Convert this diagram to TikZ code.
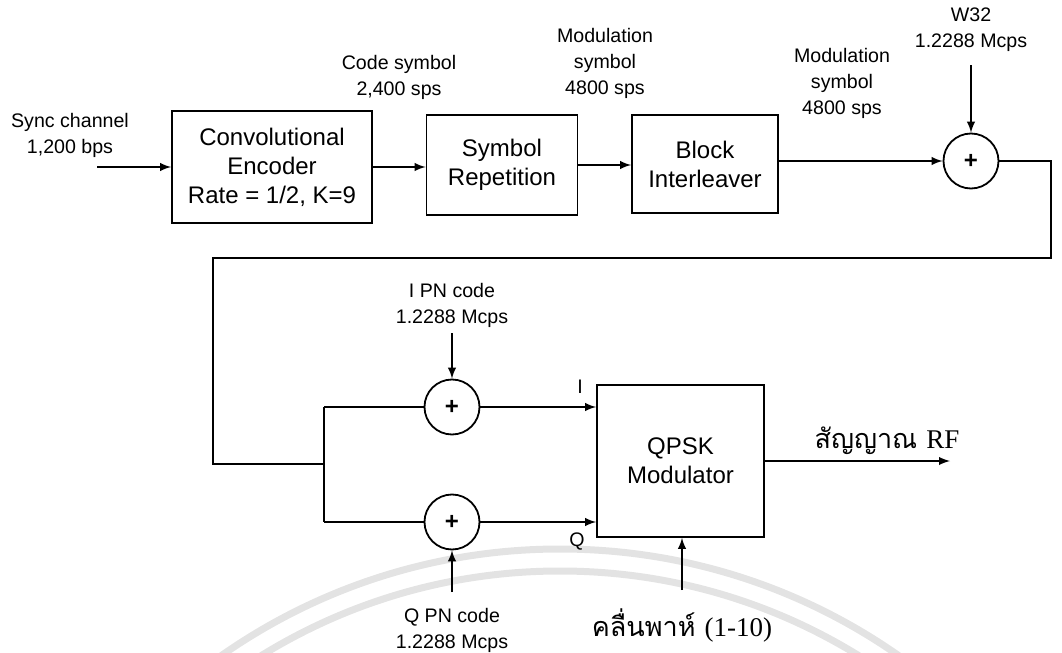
\documentclass[tikz,border=0pt]{standalone}
\usepackage{fontspec}
\setmainfont{Liberation Sans}
\newfontfamily\thaifont[Script=Thai]{Loma}
\newfontfamily\serifrm{Liberation Serif}
\usetikzlibrary{positioning}

\begin{document}
\begin{tikzpicture}[x=0.5pt, y=-0.5pt, >=latex, line width=0.9pt]
  \tikzstyle{box}=[rectangle, draw, align=center, inner sep=0pt, font=\fontsize{12}{14.5}\selectfont]
  \tikzstyle{sum}=[circle, draw, minimum size=27.5pt, inner sep=0pt, font=\bfseries\fontsize{12}{12}\selectfont]
  \tikzstyle{lbl}=[align=center, font=\fontsize{9.8}{13}\selectfont]
  \tikzstyle{thai}=[font=\thaifont\fontsize{13.5}{16}\selectfont]

  \useasboundingbox (0,0) rectangle (1062,653);

  % faint watermark
  \begin{scope}
    \clip (0,0) rectangle (1062,653);
    \draw[gray!22, line width=3.5pt] (560,1140) circle[radius=591];
    \draw[gray!22, line width=3.5pt] (560,1140) circle[radius=569];
  \end{scope}

  % top row
  \node[box, minimum width=100pt, minimum height=56pt] (conv) at (272,167) {Convolutional\\Encoder\\Rate = 1/2, K=9};
  \node[box, minimum width=75.5pt, minimum height=50pt] (rep) at (502,165) {Symbol\\Repetition};
  \node[box, minimum width=73pt, minimum height=49pt] (intl) at (705,164) {Block\\Interleaver};
  \node[sum] (w32) at (971,161) {+};

  \coordinate (in) at (97,167);
  \coordinate (w32in) at (971,65);
  \coordinate (fbr) at (1051,161);
  \coordinate (fbb) at (1051,258);
  \coordinate (fbl) at (213,258);
  \coordinate (fbd) at (213,464);
  \coordinate (split) at (324,464);
  \coordinate (splitI) at (324,407);
  \coordinate (splitQ) at (324,522);

  \node[lbl] (sync) at (70,135) {Sync channel\\1,200 bps};
  \node[lbl] (codesym) at (399,77) {Code symbol\\2,400 sps};
  \node[lbl] (modsym1) at (605,63) {Modulation\\symbol\\4800 sps};
  \node[lbl] (modsym2) at (842,83) {Modulation\\symbol\\4800 sps};
  \node[lbl] (w32lbl) at (971,30) {W32\\1.2288 Mcps};

  % bottom part
  \node[sum] (ipn) at (452,407) {+};
  \node[sum] (qpn) at (452,522) {+};
  \node[box, minimum width=83.5pt, minimum height=76pt] (qpsk) at (680.5,461) {QPSK\\Modulator};

  \coordinate (ipnin) at (452,333);
  \coordinate (qpnin) at (452,592);
  \coordinate (carr) at (682,590);
  \coordinate (rfout) at (950,461);

  \node[lbl] (ipnlbl) at (452,305) {I PN code\\1.2288 Mcps};
  \node[lbl] (qpnlbl) at (452,630) {Q PN code\\1.2288 Mcps};
  \node[lbl] (ilbl) at (580,387) {I};
  \node[lbl] (qlbl) at (577,542) {Q};
  \node[thai] (carrlbl) at (682,625) {คลื่นพาห์ {\serifrm (1-10)}};
  \node[thai] (rflbl) at (887,441) {สัญญาณ {\serifrm RF}};

  \draw[->] (in) -- (conv.west);
  \draw[->] (conv.east) -- (conv.east -| rep.west);
  \draw[->] (rep.east) -- (rep.east -| intl.west);
  \draw[->] (intl.east |- w32) -- (w32.west);
  \draw[->] (w32in) -- (w32.north);
  \draw (w32.east) -- (fbr) -- (fbb) -- (fbl) -- (fbd) -- (split);
  \draw (splitI) -- (splitQ);
  \draw (splitI) -- (ipn.west);
  \draw (splitQ) -- (qpn.west);
  \draw[->] (ipnin) -- (ipn.north);
  \draw[->] (qpnin) -- (qpn.south);
  \draw[->] (ipn.east) -- (ipn.east -| qpsk.west);
  \draw[->] (qpn.east) -- (qpn.east -| qpsk.west);
  \draw[->] (carr) -- (carr |- qpsk.south);
  \draw[->] (qpsk.east) -- (rfout);
\end{tikzpicture}
\end{document}
